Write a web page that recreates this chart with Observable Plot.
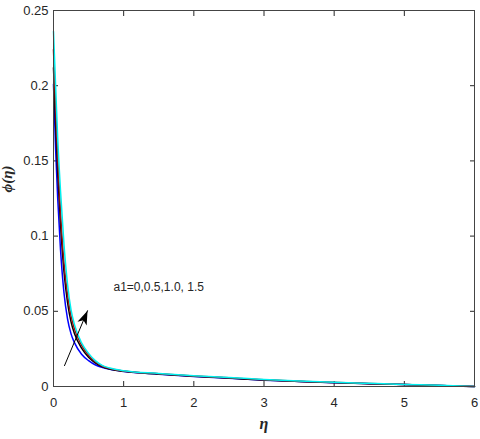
<!DOCTYPE html>
<html>
<head>
<meta charset="utf-8">
<script src="https://cdn.jsdelivr.net/npm/d3@7"></script>
<script src="https://cdn.jsdelivr.net/npm/@observablehq/plot@0.6"></script>
<style>
  html, body { margin: 0; padding: 0; background: #fff; }
</style>
</head>
<body>
<div id="chart"></div>
<script>
// η grid
const eta = [0, 0.03, 0.06, 0.1, 0.15, 0.2, 0.25, 0.3, 0.4, 0.5, 0.6, 0.7, 0.8, 1, 1.5, 2, 2.5, 3, 3.5, 4, 4.5, 5, 5.5, 6];
// φ(η) for a1 = 0, 0.5, 1.0, 1.5
const phiA0   = [0.201, 0.158, 0.125, 0.091, 0.062, 0.045, 0.035, 0.029, 0.0215, 0.0172, 0.0143, 0.0126, 0.0115, 0.0100, 0.0082, 0.0067, 0.0055, 0.0042, 0.0033, 0.0025, 0.0019, 0.0013, 0.0007, 0];
const phiA05  = [0.212, 0.174, 0.142, 0.108, 0.076, 0.056, 0.043, 0.035, 0.0255, 0.0195, 0.0156, 0.0131, 0.0117, 0.0101, 0.0083, 0.0068, 0.0056, 0.0043, 0.0034, 0.0026, 0.0019, 0.0013, 0.0007, 0];
const phiA10  = [0.224, 0.186, 0.152, 0.116, 0.082, 0.061, 0.047, 0.038, 0.0275, 0.0207, 0.0163, 0.0135, 0.0120, 0.0103, 0.0085, 0.0070, 0.0058, 0.0045, 0.0035, 0.0027, 0.0020, 0.0014, 0.0007, 0];
const phiA15  = [0.236, 0.200, 0.165, 0.130, 0.094, 0.068, 0.051, 0.041, 0.029, 0.022, 0.017, 0.0139, 0.0123, 0.0105, 0.0087, 0.0072, 0.0060, 0.0047, 0.0037, 0.0028, 0.0021, 0.0014, 0.0008, 0];
const seriesNames = ["a1=0", "a1=0.5", "a1=1.0", "a1=1.5"];
const seriesValues = [phiA0, phiA05, phiA10, phiA15];
const seriesColors = ["#0000ff", "#000000", "#a01010", "#00f0f0"];

const xTicks = [0, 1, 2, 3, 4, 5, 6];
const xTickLabels = ["0", "1", "2", "3", "4", "5", "6"];
const yTicks = [0, 0.05, 0.1, 0.15, 0.2, 0.25];
const yTickLabels = ["0", "0.05", "0.1", "0.15", "0.2", "0.25"];

// annotation
const annoText = ["a1=0,0.5,1.0, 1.5"];
const annoTextPos = [{x: 0.855, y: 0.0636}];
const arrowPts = [{x1: 0.157, y1: 0.0139, x2: 0.485, y2: 0.0504}];

const rows = [];
seriesValues.forEach((vals, s) => {
  vals.forEach((v, i) => rows.push({eta: eta[i], phi: v, series: seriesNames[s]}));
});

const arrowHead = {
  draw(ctx) {
    ctx.moveTo(0, 0);
    ctx.lineTo(-5, 14);
    ctx.lineTo(0, 10.5);
    ctx.lineTo(5, 14);
    ctx.closePath();
  }
};

const ink = "#262626";
const chart = Plot.plot({
  width: 480,
  height: 439,
  marginLeft: 53,
  marginRight: 6,
  marginTop: 10,
  marginBottom: 53,
  style: {fontFamily: "Liberation Sans, Arial, sans-serif", fontSize: "13px", color: ink, background: "#fff"},
  x: {domain: [0, 6]},
  y: {domain: [0, 0.25]},
  color: {domain: seriesNames, range: seriesColors},
  marks: [
    Plot.axisX({anchor: "bottom", ticks: xTicks, tickFormat: (d, i) => xTickLabels[i], tickSize: -5, tickPadding: 16, label: null, stroke: ink, fill: ink, fontSize: 13}),
    Plot.axisX({anchor: "top", ticks: xTicks, tickFormat: null, text: null, tickSize: -5, label: null, stroke: ink}),
    Plot.axisY({anchor: "left", ticks: yTicks, tickFormat: (d, i) => yTickLabels[i], tickSize: -5, tickPadding: 10, label: null, stroke: ink, fill: ink, fontSize: 13}),
    Plot.axisY({anchor: "right", ticks: yTicks, tickFormat: null, text: null, tickSize: -5, label: null, stroke: ink}),
    Plot.line(rows, {x: "eta", y: "phi", z: "series", stroke: "series", strokeWidth: 1.5, curve: "monotone-x"}),
    Plot.frame({stroke: "#444", strokeWidth: 1}),
    Plot.arrow(arrowPts, {x1: "x1", y1: "y1", x2: "x2", y2: "y2", stroke: "#000", strokeWidth: 1, headLength: 0}),
    Plot.dot(arrowPts, {x: "x2", y: "y2", symbol: arrowHead, fill: "#000", stroke: "none", rotate: 23, r: 5}),
    Plot.text(annoText, {x: annoTextPos.map(d => d.x), y: annoTextPos.map(d => d.y), textAnchor: "start", lineAnchor: "bottom", fontSize: 12, fill: ink}),
    Plot.text(["η"], {frameAnchor: "bottom", dy: 42, fontSize: 16, fontWeight: "bold", fontStyle: "italic", fill: ink, fontFamily: "Liberation Serif, serif"}),
    Plot.text(["ϕ(η)"], {frameAnchor: "left", dx: -46, dy: -6, rotate: -90, fontSize: 15, fontWeight: "bold", fontStyle: "italic", fill: ink, fontFamily: "Liberation Serif, serif"})
  ]
});
document.getElementById("chart").appendChild(chart);
</script>
</body>
</html>
